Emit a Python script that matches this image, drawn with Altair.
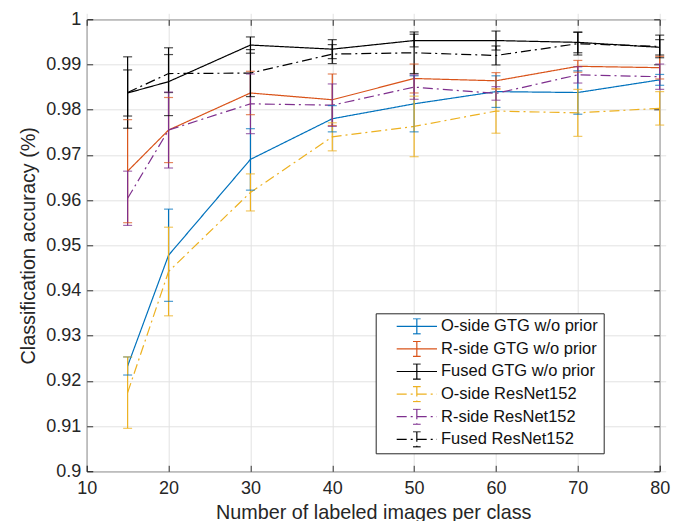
import altair as alt
import pandas as pd

# ---------------- data ----------------
x_vals = [15, 20, 30, 40, 50, 60, 70, 80]
series_names = [
    "O-side GTG w/o prior",
    "R-side GTG w/o prior",
    "Fused GTG w/o prior",
    "O-side ResNet152",
    "R-side ResNet152",
    "Fused ResNet152",
]
o_gtg_mean = [0.9233, 0.9478, 0.9690, 0.9780, 0.9813, 0.9840, 0.9838, 0.9866]
o_gtg_err = [0.0020, 0.0102, 0.0068, 0.0029, 0.0062, 0.0035, 0.0048, 0.0012]
r_gtg_mean = [0.9664, 0.9755, 0.9837, 0.9822, 0.9869, 0.9864, 0.9896, 0.9893]
r_gtg_err = [0.0114, 0.0072, 0.0048, 0.0057, 0.0032, 0.0018, 0.0013, 0.0025]
f_gtg_mean = [0.9837, 0.9862, 0.9943, 0.9934, 0.9953, 0.9953, 0.9949, 0.9938]
f_gtg_err = [0.0051, 0.0075, 0.0018, 0.0021, 0.0014, 0.0021, 0.0023, 0.0017]
o_res_mean = [0.9174, 0.9442, 0.9617, 0.9740, 0.9763, 0.9797, 0.9793, 0.9803]
o_res_err = [0.0079, 0.0098, 0.0041, 0.0031, 0.0067, 0.0049, 0.0052, 0.0037]
r_res_mean = [0.9604, 0.9755, 0.9813, 0.9810, 0.9850, 0.9836, 0.9877, 0.9873]
r_res_err = [0.0060, 0.0084, 0.0066, 0.0047, 0.0027, 0.0015, 0.0018, 0.0028]
f_res_mean = [0.9838, 0.9880, 0.9881, 0.9923, 0.9926, 0.9920, 0.9946, 0.9940]
f_res_err = [0.0079, 0.0042, 0.0052, 0.0021, 0.0046, 0.0021, 0.0025, 0.0025]

x_ticks = [10, 20, 30, 40, 50, 60, 70, 80]
y_ticks = [0.9, 0.91, 0.92, 0.93, 0.94, 0.95, 0.96, 0.97, 0.98, 0.99, 1.0]

# ---------------- styles ----------------
colors = ["#0072BD", "#D95319", "#000000", "#EDB120", "#7E2F8E", "#000000"]
solid = [1, 0]
dashdot = [10, 4, 2, 4]
dashes = [solid, solid, solid, dashdot, dashdot, dashdot]
FONT = "Liberation Sans"
INK = "#262626"

means = [o_gtg_mean, r_gtg_mean, f_gtg_mean, o_res_mean, r_res_mean, f_res_mean]
errs = [o_gtg_err, r_gtg_err, f_gtg_err, o_res_err, r_res_err, f_res_err]

rows = []
for k, (name, m, e) in enumerate(zip(series_names, means, errs)):
    for xv, mv, ev in zip(x_vals, m, e):
        rows.append({"series": name, "k": k, "x": xv, "mean": mv,
                     "lo": mv - ev, "hi": mv + ev})
df = pd.DataFrame(rows)

xscale = alt.Scale(domain=[10, 80], nice=False, zero=False)
yscale = alt.Scale(domain=[0.9, 1.0], nice=False, zero=False)
cscale = alt.Scale(domain=series_names, range=colors)
dscale = alt.Scale(domain=series_names, range=dashes)

legend_path = ("M-0.464,0H0.975M0.255,-0.27V0.27"
               "M0.118,-0.27H0.392M0.118,0.27H0.392")
legend = alt.Legend(
    orient="none", legendX=289, legendY=294, title=None,
    symbolType=legend_path, symbolSize=3136, symbolStrokeWidth=1.2,
    clipHeight=16, labelFont=FONT, labelFontSize=16.5, labelColor="#111111",
    labelOffset=2.3, padding=5, rowPadding=5.6,
    strokeColor=INK, fillColor="white",
    labelExpr="datum.label + '\u2003\u2009'",
)

base = alt.Chart(df)

lines = base.mark_line(strokeWidth=1.2).encode(
    x=alt.X("x:Q", scale=xscale, axis=alt.Axis(
        orient="bottom", values=x_ticks, grid=True, labelPadding=8,
        title="Number of labeled images per class", titlePadding=5)),
    y=alt.Y("mean:Q", scale=yscale, axis=alt.Axis(
        orient="left", values=y_ticks, format=".2~f", grid=True,
        labelPadding=6, title="Classification accuracy (%)", titlePadding=7)),
    color=alt.Color("series:N", scale=cscale, sort=series_names, legend=legend),
    strokeDash=alt.StrokeDash("series:N", scale=dscale, sort=series_names, legend=legend),
    order=alt.Order("x:Q"),
)

bars = base.mark_rule(strokeWidth=1.2).encode(
    x=alt.X("x:Q", scale=xscale, axis=alt.Axis(
        orient="top", values=x_ticks, labels=False, grid=False, title=None)),
    y=alt.Y("lo:Q", scale=yscale, axis=alt.Axis(
        orient="right", values=y_ticks, labels=False, grid=False, title=None)),
    y2="hi:Q",
    color=alt.Color("series:N", scale=cscale, sort=series_names, legend=None),
)

cap_lo = base.mark_tick(orient="horizontal", size=9, thickness=1.2).encode(
    x=alt.X("x:Q", scale=xscale, axis=None),
    y=alt.Y("lo:Q", scale=yscale, axis=None),
    color=alt.Color("series:N", scale=cscale, sort=series_names, legend=None),
)
cap_hi = base.mark_tick(orient="horizontal", size=9, thickness=1.2).encode(
    x=alt.X("x:Q", scale=xscale, axis=None),
    y=alt.Y("hi:Q", scale=yscale, axis=None),
    color=alt.Color("series:N", scale=cscale, sort=series_names, legend=None),
)

chart = (
    alt.layer(lines, bars, cap_lo, cap_hi)
    .properties(
        width=573, height=452,
        padding={"left": 78.7, "top": 11.3, "right": 14, "bottom": 50},
        autosize=alt.AutoSizeParams(type="none"),
        background="white",
    )
    .configure_view(stroke=INK, strokeWidth=1)
    .configure_axis(
        labelFont=FONT, labelFontSize=18, labelColor=INK,
        titleFont=FONT, titleFontSize=19.8, titleFontWeight="normal",
        titleColor=INK, tickColor=INK, tickSize=6, offset=-6, domain=False,
        gridColor="#e2e2e2", gridWidth=1, labelFlush=False,
        labelOverlap=False,
    )
)

chart.save("out.html", embed_options={"renderer": "svg", "actions": False})
